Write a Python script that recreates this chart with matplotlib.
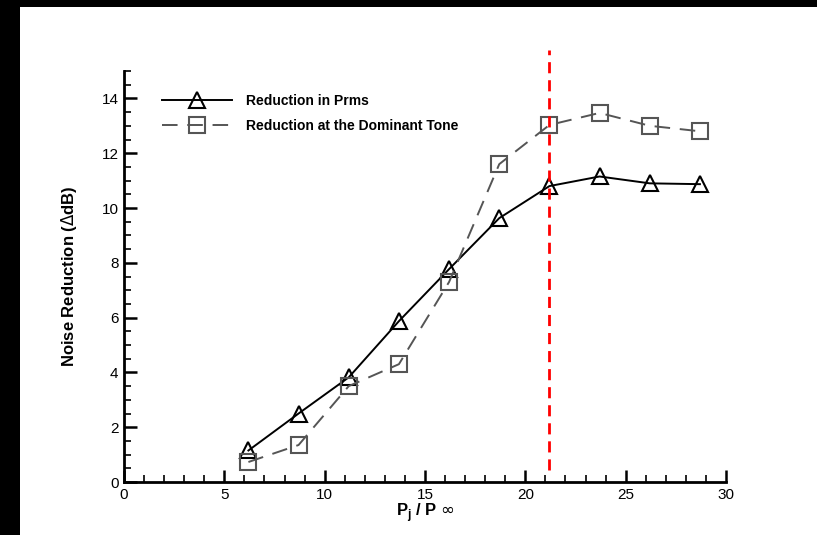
import matplotlib
matplotlib.use("Agg")
import matplotlib.pyplot as plt
import matplotlib.patches as patches
from matplotlib.ticker import MultipleLocator

# pressure ratio P_j / P_inf
pressure_ratio = [6.2, 8.7, 11.2, 13.7, 16.2, 18.7, 21.2, 23.7, 26.2, 28.7]
# noise reduction values (dB)
prms_reduction = [1.15, 2.5, 3.82, 5.87, 7.77, 9.63, 10.8, 11.15, 10.9, 10.87]
tone_reduction = [0.73, 1.35, 3.5, 4.3, 7.3, 11.6, 13.03, 13.47, 13.0, 12.8]
marker_line_x = 21.2

plt.rcParams['font.family'] = ['Liberation Sans', 'DejaVu Sans']

fig = plt.figure(figsize=(8.17, 5.35), dpi=100)
fig.patch.set_facecolor('white')

# black frame bands on top and left
fig.add_artist(patches.Rectangle((0, 0), 20 / 817, 1, transform=fig.transFigure,
                                 facecolor='black', edgecolor='none', zorder=0))
fig.add_artist(patches.Rectangle((0, 1 - 7 / 535), 1, 7 / 535, transform=fig.transFigure,
                                 facecolor='black', edgecolor='none', zorder=0))

ax = fig.add_axes([124 / 817, 53 / 535, 602 / 817, 411 / 535])

ax.plot(pressure_ratio, prms_reduction, color='black', lw=1.4, marker='^', ms=12,
        mfc='none', mec='black', mew=1.5, label='Reduction in Prms')
ax.plot(pressure_ratio, tone_reduction, color='#555555', lw=1.4, ls=(0, (8, 5)),
        marker='s', ms=11, mfc='none', mec='#555555', mew=1.5,
        label='Reduction at the Dominant Tone')

ax.plot([marker_line_x, marker_line_x], [0.45, 15.75], color='red', lw=2,
        ls=(0, (4, 2.5)), clip_on=False, zorder=5)

ax.set_xlim(0, 30)
ax.set_ylim(0, 15)
ax.xaxis.set_major_locator(MultipleLocator(5))
ax.xaxis.set_minor_locator(MultipleLocator(1))
ax.yaxis.set_major_locator(MultipleLocator(2))
ax.yaxis.set_minor_locator(MultipleLocator(0.5))

for side in ['top', 'right']:
    ax.spines[side].set_visible(False)
for side in ['left', 'bottom']:
    ax.spines[side].set_linewidth(2)

ax.tick_params(which='major', direction='in', length=9, width=1.8, labelsize=11, pad=4)
ax.tick_params(which='minor', direction='in', length=5, width=1.2)

ax.set_xlabel(r'P$_\mathregular{j}$ / P $\infty$', fontsize=12, fontweight='bold', labelpad=0)
ax.set_ylabel(r'Noise Reduction ($\Delta$dB)', fontsize=12, fontweight='bold', labelpad=16)

ax.legend(loc='upper left', bbox_to_anchor=(0.043, 0.975), frameon=False, handlelength=5.0,
          handletextpad=1.0, labelspacing=0.8, prop={'weight': 'bold', 'size': 10})

fig.savefig('out.png', dpi=100)
